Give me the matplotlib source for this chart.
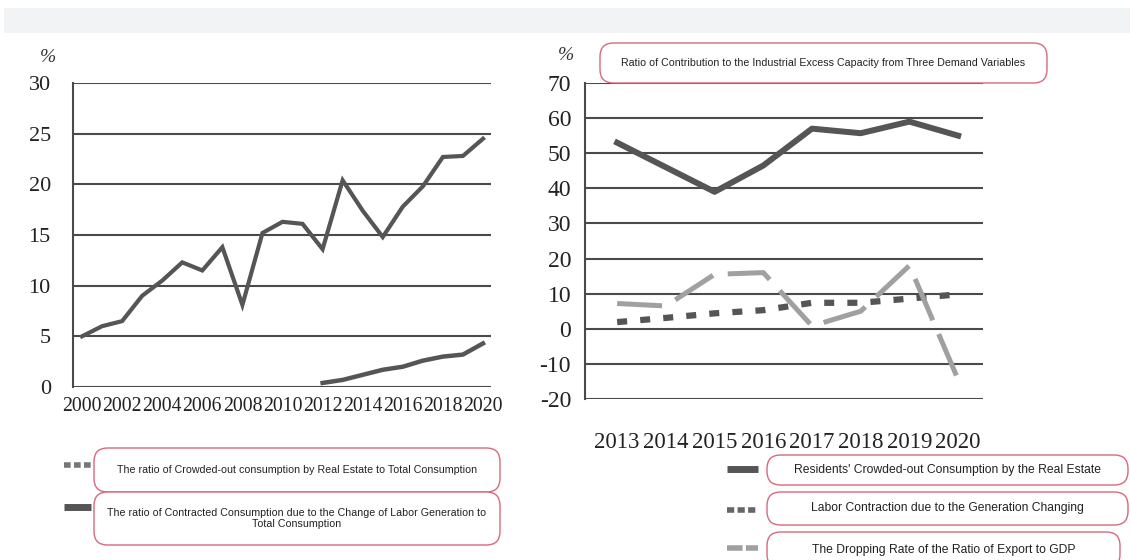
import matplotlib
matplotlib.use("Agg")
from matplotlib import pyplot as plt
from matplotlib.patches import FancyBboxPatch, Rectangle
from matplotlib.lines import Line2D

# left panel data
left_years = list(range(2000, 2021))
left_real_estate = [5.0, 6.0, 6.5, 9.0, 10.5, 12.3, 11.5, 13.8, 8.1, 15.2, 16.3,
                    16.1, 13.6, 20.4, 17.4, 14.8, 17.8, 19.8, 22.7, 22.8, 24.5]
labor_years = list(range(2012, 2021))
left_labor = [0.4, 0.7, 1.2, 1.7, 2.0, 2.6, 3.0, 3.2, 4.3]
left_xticks = list(range(2000, 2021, 2))
left_yticks = [0, 5, 10, 15, 20, 25, 30]

# right panel data
right_years = list(range(2013, 2021))
residents = [53.0, 46.0, 39.0, 46.5, 57.0, 55.7, 59.0, 55.0]
labor_contraction = [1.9, 3.1, 4.4, 5.3, 7.4, 7.4, 8.6, 9.8]
export_drop = [7.2, 6.5, 15.5, 16.0, 0.8, 5.0, 18.0, -14.5]
right_yticks = list(range(-20, 71, 10))

left_legend = ["The ratio of Crowded-out consumption by Real Estate to Total Consumption",
               "The ratio of Contracted Consumption due to the Change of Labor Generation to\nTotal Consumption"]
right_legend = ["Residents' Crowded-out Consumption by the Real Estate",
                "Labor Contraction due to the Generation Changing",
                "The Dropping Rate of the Ratio of Export to GDP"]
right_title = "Ratio of Contribution to the Industrial Excess Capacity from Three Demand Variables"

W, H = 1130, 560
fig = plt.figure(figsize=(W / 100, H / 100), dpi=100)

def fx(px):
    return px / W

def fy(py):
    return 1 - py / H

DARK = "#555555"
GRID = "#4a4a4a"
LIGHT = "#a0a0a0"
PINK = "#d9687c"
SERIF = "Liberation Serif"
SANS = "Liberation Sans"

# grey band at the top
fig.add_artist(Rectangle((fx(4), fy(33)), fx(1126), 25 / H, transform=fig.transFigure,
                         color="#f2f3f4", lw=0))

def style_axes(ax, yticks):
    for s in ["top", "right", "bottom"]:
        ax.spines[s].set_visible(False)
    ax.spines["left"].set_color(GRID)
    ax.spines["left"].set_linewidth(1.5)
    ax.set_yticks(yticks)
    ax.grid(axis="y", color=GRID, lw=1.5)
    ax.set_axisbelow(True)
    ax.tick_params(length=0)

# left chart
ax1 = fig.add_axes([fx(73), fy(387), fx(491 - 73), (387 - 83) / H])
ax1.plot(left_years, left_real_estate, color=DARK, lw=3, solid_joinstyle="miter")
ax1.plot(labor_years, left_labor, color=DARK, lw=3.2)
ax1.set_xlim(1999.55, 2020.4)
ax1.set_ylim(0, 30)
style_axes(ax1, left_yticks)
ax1.set_xticks(left_xticks)
ax1.tick_params(axis="x", pad=7)
ax1.tick_params(axis="y", pad=16)
for lab in ax1.get_xticklabels():
    lab.set_fontfamily(SERIF)
    lab.set_fontsize(14.2)
    lab.set_color("#222222")
for lab in ax1.get_yticklabels():
    lab.set_fontfamily(SERIF)
    lab.set_fontsize(16)
    lab.set_color("#222222")

# right chart
ax2 = fig.add_axes([fx(585), fy(399), fx(983 - 585), (399 - 83) / H])
ax2.plot(right_years, residents, color=DARK, lw=4.3)
ax2.plot(right_years, labor_contraction, color=DARK, lw=4.5, linestyle=(0, (1.6, 2.1)))
ax2.plot(right_years, export_drop, color=LIGHT, lw=3.6, linestyle=(0, (9, 3)))
ax2.set_xlim(2012.34, 2020.51)
ax2.set_ylim(-20, 70)
style_axes(ax2, right_yticks)
ax2.set_xticks(right_years)
ax2.set_yticklabels([str(v) for v in right_yticks])
ax2.tick_params(axis="x", pad=24)
ax2.tick_params(axis="y", pad=10)
for lab in ax2.get_xticklabels():
    lab.set_fontfamily(SERIF)
    lab.set_fontsize(16.5)
    lab.set_color("#222222")
for lab in ax2.get_yticklabels():
    lab.set_fontfamily(SERIF)
    lab.set_fontsize(17)
    lab.set_color("#222222")

fig.text(fx(48), fy(57), "%", family=SERIF, style="italic", fontsize=14,
         ha="center", va="center", color="#333333")
fig.text(fx(566), fy(55), "%", family=SERIF, style="italic", fontsize=14,
         ha="center", va="center", color="#333333")

def box(x0, y0, x1, y1, text, size):
    fig.add_artist(FancyBboxPatch((fx(x0), fy(y1)), fx(x1 - x0), (y1 - y0) / H,
                                  boxstyle="round,pad=0,rounding_size=0.012",
                                  transform=fig.transFigure, facecolor="white",
                                  edgecolor=PINK, lw=1, mutation_aspect=W / H))
    fig.text(fx((x0 + x1) / 2), fy((y0 + y1) / 2), text, family=SANS, fontsize=size,
             ha="center", va="center", color="#222222", linespacing=1.15)

def icon(x0, x1, y, color, ls, lw=4.3):
    fig.add_artist(Line2D([fx(x0), fx(x1)], [fy(y), fy(y)], transform=fig.transFigure,
                          color=color, lw=lw, linestyle=ls, solid_capstyle="butt",
                          dash_capstyle="butt"))

box(600, 43, 1047, 83, right_title, 7.7)

box(94, 448, 500, 492, left_legend[0], 7.7)
box(94, 492, 500, 545, left_legend[1], 7.7)
icon(64, 91, 465, "#777777", (0, (1.2, 0.6)), lw=4)
icon(64, 91, 507, DARK, "-", lw=5)

box(767, 455, 1128, 485, right_legend[0], 8.7)
box(767, 492, 1128, 525, right_legend[1], 8.7)
box(767, 532, 1120, 568, right_legend[2], 8.7)
icon(727, 758, 469, DARK, "-", lw=5)
icon(727, 758, 510, "#666666", (0, (1.3, 0.6)), lw=4)
icon(727, 758, 548, LIGHT, (0, (2.8, 0.6)), lw=4)

fig.savefig("out.png", dpi=100)
